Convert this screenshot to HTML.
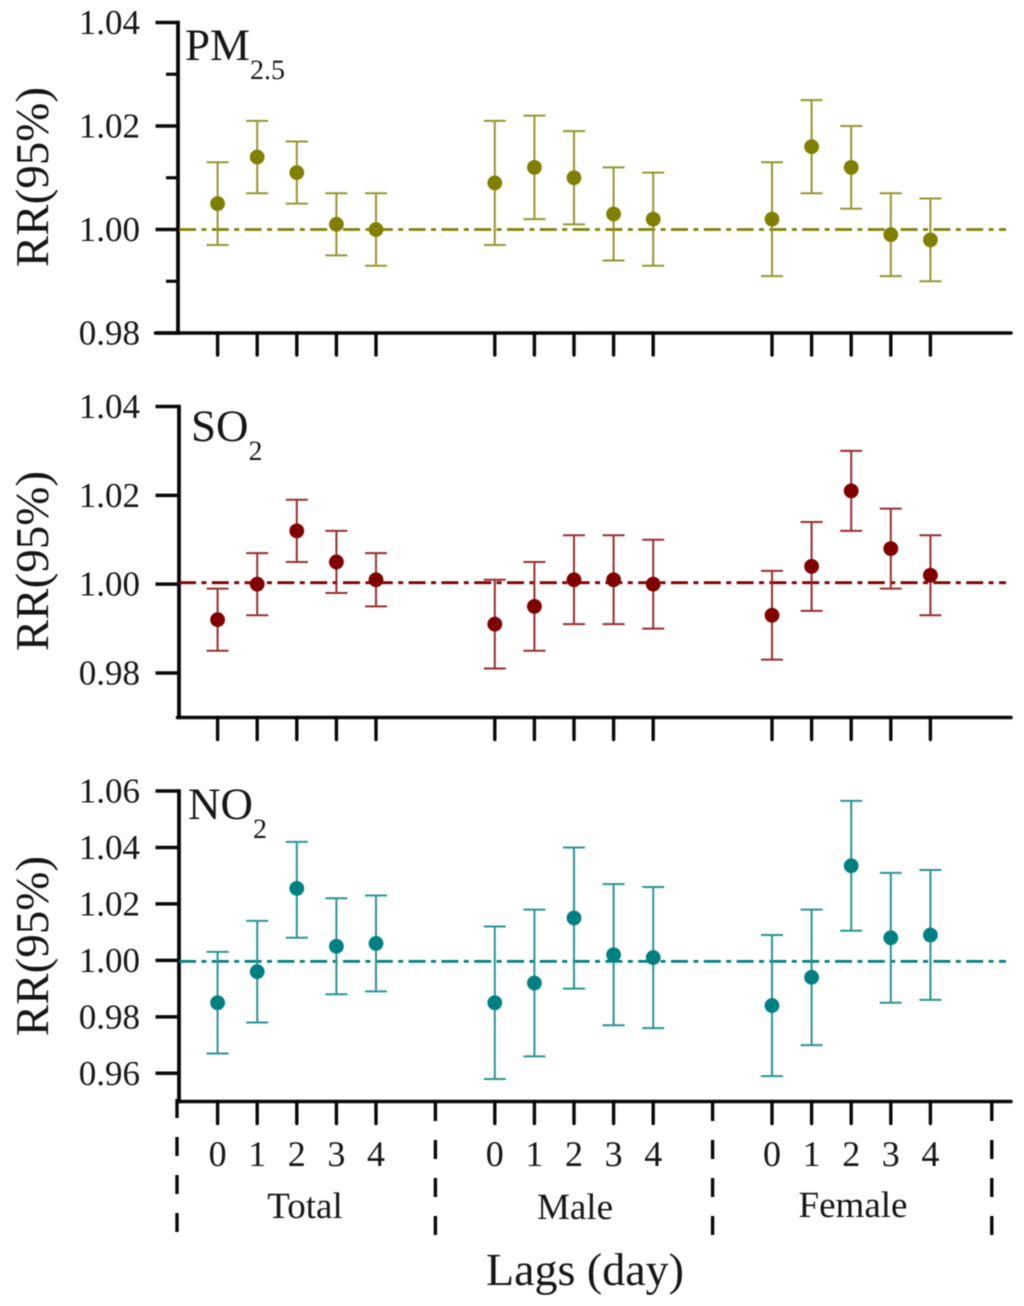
<!DOCTYPE html>
<html>
<head>
<meta charset="utf-8">
<title>RR(95%) by lag</title>
<style>
html,body{margin:0;padding:0;background:#fff;}
svg{display:block;font-family:"Liberation Serif",serif;fill:#161616;text-rendering:geometricPrecision;filter:blur(0.45px);}
</style>
</head>
<body>
<svg id="chart" width="1024" height="1306" viewBox="0 0 1024 1306" xmlns="http://www.w3.org/2000/svg">
  <text x="185" y="60" font-size="45">PM<tspan font-size="28" dy="19">2.5</tspan></text>
  <text x="191" y="441" font-size="45">SO<tspan font-size="28" dy="19">2</tspan></text>
  <text x="188" y="819" font-size="45">NO<tspan font-size="28" dy="19">2</tspan></text>
  <text transform="translate(48,177) rotate(-90)" text-anchor="middle" font-size="47">RR(95%)</text>
  <text transform="translate(48,561) rotate(-90)" text-anchor="middle" font-size="47">RR(95%)</text>
  <text transform="translate(48,946) rotate(-90)" text-anchor="middle" font-size="47">RR(95%)</text>
  <text x="585" y="1285" text-anchor="middle" font-size="46">Lags (day)</text>
  <text x="305" y="1218" text-anchor="middle" font-size="37">Total</text>
  <text x="575" y="1219" text-anchor="middle" font-size="37">Male</text>
  <text x="853" y="1217" text-anchor="middle" font-size="37">Female</text>
</svg>
<script>
// Data: categories and tick labels
const lagLabels = ["0", "1", "2", "3", "4"];
const groups = ["Total", "Male", "Female"];
const pm25Ticks = [1.04, 1.02, 1.00, 0.98];
const pm25Minor = [1.03, 1.01, 0.99];
const so2Ticks = [1.04, 1.02, 1.00, 0.98];
const no2Ticks = [1.06, 1.04, 1.02, 1.00, 0.98, 0.96];

// Data: series values (Total, Male, Female; lags 0-4 each)
const pm25Mean = [1.005, 1.014, 1.011, 1.001, 1.000, 1.009, 1.012, 1.010, 1.003, 1.002, 1.002, 1.016, 1.012, 0.999, 0.998];
const pm25Low  = [0.997, 1.007, 1.005, 0.995, 0.993, 0.997, 1.002, 1.001, 0.994, 0.993, 0.991, 1.007, 1.004, 0.991, 0.990];
const pm25High = [1.013, 1.021, 1.017, 1.007, 1.007, 1.021, 1.022, 1.019, 1.012, 1.011, 1.013, 1.025, 1.020, 1.007, 1.006];

const so2Mean = [0.992, 1.000, 1.012, 1.005, 1.001, 0.991, 0.995, 1.001, 1.001, 1.000, 0.993, 1.004, 1.021, 1.008, 1.002];
const so2Low  = [0.985, 0.993, 1.005, 0.998, 0.995, 0.981, 0.985, 0.991, 0.991, 0.990, 0.983, 0.994, 1.012, 0.999, 0.993];
const so2High = [0.999, 1.007, 1.019, 1.012, 1.007, 1.001, 1.005, 1.011, 1.011, 1.010, 1.003, 1.014, 1.030, 1.017, 1.011];

const no2Mean = [0.985, 0.996, 1.0255, 1.005, 1.006, 0.985, 0.992, 1.015, 1.002, 1.001, 0.984, 0.994, 1.0335, 1.008, 1.009];
const no2Low  = [0.967, 0.978, 1.008, 0.988, 0.989, 0.958, 0.966, 0.990, 0.977, 0.976, 0.959, 0.970, 1.0105, 0.985, 0.986];
const no2High = [1.003, 1.014, 1.042, 1.022, 1.023, 1.012, 1.018, 1.040, 1.027, 1.026, 1.009, 1.018, 1.0565, 1.031, 1.032];

// Layout
const SVG_NS = "http://www.w3.org/2000/svg";
const svg = document.getElementById("chart");
const INK = "#080808";

// x axis: position units along the categorical axis
const xAxis = u => 178 + u * 39.6;
const groupStart = [1, 8, 15];
const groupSepUnits = [0, 6.5, 13.5, 20.55];
const xOf = (groupIdx, lagIdx) => xAxis(groupStart[groupIdx] + lagIdx);

function yScale(v0, y0, v1, y1) {
  return v => y0 + (v - v0) * (y1 - y0) / (v1 - v0);
}

function make(tag, parent) {
  const el = document.createElementNS(SVG_NS, tag);
  parent.appendChild(el);
  return el;
}

function line(parent, x1, y1, x2, y2, stroke, width) {
  const el = make("line", parent);
  el.setAttribute("x1", x1);
  el.setAttribute("y1", y1);
  el.setAttribute("x2", x2);
  el.setAttribute("y2", y2);
  el.setAttribute("stroke", stroke);
  el.setAttribute("stroke-width", width);
  return el;
}

function drawPanel(key, ticks, minor, y, top, bottom, axisX, baseStart, color, lineColor, refOffset, means, lows, highs) {
  const g = make("g", svg);
  
  

  // Axes
  const yAxisLine = line(g, axisX, top - 1.8, axisX, bottom + 1.8, INK, 3.8);
  
  
  const xAxisLine = line(g, baseStart, bottom, 1011, bottom, INK, 3.6);
  xAxisLine.setAttribute("stroke-linecap", "round");
  
  

  // Y ticks and labels
  ticks.forEach(t => {
    const tick = line(g, 155.5, y(t), axisX, y(t), INK, 3.5);
    
    
    const label = make("text", g);
    
    
    label.setAttribute("x", 140);
    label.setAttribute("y", y(t) + 11.5);
    label.setAttribute("text-anchor", "end");
    label.setAttribute("font-size", "35");
    label.textContent = t.toFixed(2);
  });
  minor.forEach(t => {
    const tick = line(g, 166, y(t), axisX, y(t), INK, 3.2);
    
    
  });

  // X ticks
  groups.forEach((grp, gi) => {
    lagLabels.forEach((lag, li) => {
      const tick = line(g, xOf(gi, li), bottom, xOf(gi, li), bottom + 22, INK, 3.4);
      tick.setAttribute("stroke-linecap", "round");
      
      
    });
  });

  // Reference line
  const ref = line(g, 179, y(1) + refOffset, 1006, y(1) + refOffset, color, 2.8);
  ref.setAttribute("stroke-dasharray", "17 5.4 5 5.4");
  
  

  // Error bars and points
  means.forEach((m, i) => {
    const gi = Math.floor(i / lagLabels.length);
    const li = i % lagLabels.length;
    const x = xOf(gi, li);
    const bar = make("g", g);
    
    
    line(bar, x, y(lows[i]), x, y(highs[i]), lineColor, 2);
    line(bar, x - 11, y(lows[i]), x + 11, y(lows[i]), lineColor, 2);
    line(bar, x - 11, y(highs[i]), x + 11, y(highs[i]), lineColor, 2);
    const dot = make("circle", bar);
    dot.setAttribute("cx", x);
    dot.setAttribute("cy", y(m));
    dot.setAttribute("r", 7.4);
    dot.setAttribute("fill", color);
  });
}

drawPanel("pm25", pm25Ticks, pm25Minor, yScale(1.04, 22.5, 0.98, 333), 22.5, 333, 178, 155.5,
  "#808000", "#96962e", 0, pm25Mean, pm25Low, pm25High);
drawPanel("so2", so2Ticks, [], yScale(1.04, 406.5, 0.98, 673), 406.5, 717.5, 179, 177.5,
  "#800000", "#982e2e", -1.5, so2Mean, so2Low, so2High);
drawPanel("no2", no2Ticks, [], yScale(1.06, 791, 0.96, 1073.3), 791, 1101.5, 179, 177.5,
  "#008080", "#2a9494", 1, no2Mean, no2Low, no2High);

// Bottom axis labels and group separators
const labelGroup = make("g", svg);


groups.forEach((grp, gi) => {
  lagLabels.forEach((lag, li) => {
    const t = make("text", labelGroup);
    
    
    t.setAttribute("x", xOf(gi, li));
    t.setAttribute("y", 1166);
    t.setAttribute("text-anchor", "middle");
    t.setAttribute("font-size", "36");
    t.textContent = lag;
  });
});
groupSepUnits.forEach(u => {
  const first = u === 0;
  const sepX = xAxis(u) - (first ? 1 : 0);
  const sep = line(labelGroup, sepX, first ? 1099 : 1102, sepX, first ? 1232 : 1235, INK, 3.4);
  sep.setAttribute("stroke-dasharray", "19 19");
  
  
});
</script>
</body>
</html>
